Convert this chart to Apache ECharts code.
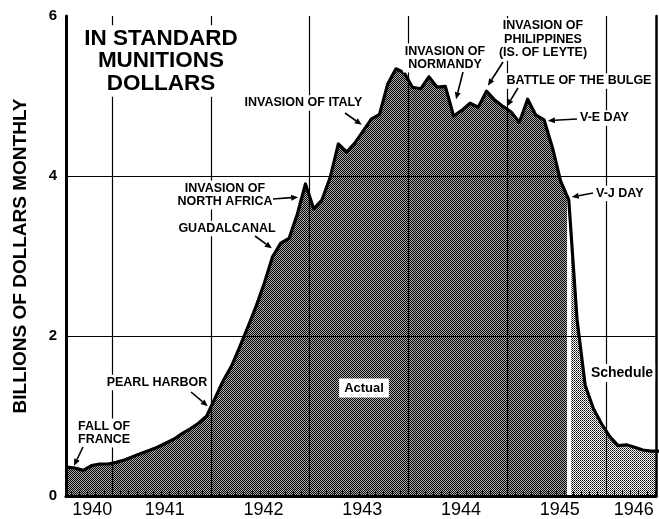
<!DOCTYPE html>
<html><head><meta charset="utf-8">
<script src="https://cdn.jsdelivr.net/npm/echarts@6/dist/echarts.min.js"></script>
<style>html,body{margin:0;padding:0;background:#fff}#c{width:659px;height:519px}</style>
</head><body><div id="c"></div>
<script>
// ---- DATA ----
const actualMonths = [
 '1940-07','1940-08','1940-09','1940-10','1940-11','1940-12',
 '1941-01','1941-02','1941-03','1941-04','1941-05','1941-06','1941-07','1941-08','1941-09','1941-10','1941-11','1941-12',
 '1942-01','1942-02','1942-03','1942-04','1942-05','1942-06','1942-07','1942-08','1942-09','1942-10','1942-11','1942-12',
 '1943-01','1943-02','1943-03','1943-04','1943-05','1943-06','1943-07','1943-08','1943-09','1943-10','1943-11','1943-12',
 '1944-01','1944-02','1944-03','1944-04','1944-05','1944-06','1944-07','1944-08','1944-09','1944-10','1944-11','1944-12',
 '1945-01','1945-02','1945-03','1945-04','1945-05','1945-06','1945-07','1945-08'
];
const actualValues = [
 0.36,0.35,0.32,0.38,0.40,0.40,
 0.42,0.45,0.49,0.53,0.57,0.61,0.66,0.71,0.78,0.84,0.91,1.00,
 1.22,1.44,1.62,1.86,2.11,2.37,2.66,2.99,3.16,3.22,3.52,3.90,
 3.59,3.70,3.98,4.40,4.30,4.41,4.56,4.71,4.77,5.15,5.34,5.29,
 5.11,5.09,5.24,5.11,5.12,4.75,4.82,4.91,4.86,5.06,4.95,4.87,
 4.80,4.67,4.96,4.76,4.70,4.36,3.94,3.70
];
const scheduleMonths = ['1945-09','1945-10','1945-11','1945-12','1946-01','1946-02','1946-03','1946-04','1946-05','1946-06','1946-07'];
const scheduleValues = [2.21,1.38,1.09,0.90,0.74,0.63,0.64,0.61,0.575,0.56,0.56];
const yearLabels = ['1940','1941','1942','1943','1944','1945','1946'];
const yearLabelPos = [9.6,18.4,30.4,42.4,54.4,66.4,75.4];   // months since Jan 1940
const yearBoundaries = [12,24,36,48,60,72];
const yGridValues = [2,4];
const yAxisName = 'BILLIONS OF DOLLARS MONTHLY';

// ---- helpers ----
function mpos(s){const p=s.split('-').map(Number);return (p[0]-1940)*12+(p[1]-1)+0.5;}
const actualData = actualMonths.map((m,i)=>[mpos(m),actualValues[i]]);
const schedData = scheduleMonths.map((m,i)=>[mpos(m),scheduleValues[i]]);
const schedFill = [actualData[actualData.length-1]].concat(schedData);
const allData = actualData.concat(schedData);
const monthTicks=[];for(let i=7;i<=78;i++)monthTicks.push(i);

function pat(cells,w,h){const c=document.createElement('canvas');c.width=w;c.height=h;const g=c.getContext('2d');g.fillStyle='#fff';g.fillRect(0,0,w,h);cells.forEach(q=>{g.fillStyle=q[2];g.fillRect(q[0],q[1],1,1);});return c;}
const darkPat=pat([[0,0,'#000'],[1,1,'#000'],[1,0,'#aaa'],[0,1,'#aaa']],2,2);
const lightPat=pat([[0,0,'#000'],[1,1,'#555']],2,2);

const FONT='"Liberation Sans", Arial, sans-serif';
const gapX = actualData[actualData.length-1][0]-0.05;

const gridMarks=[
 [{coord:[gapX,0],lineStyle:{color:'#fff',width:4}},{coord:[gapX,actualData[actualData.length-1][1]]}]
].concat(yGridValues.map(v=>({yAxis:v}))).concat(yearBoundaries.map(v=>({xAxis:v})));

const chart=echarts.init(document.getElementById('c'),null,{renderer:'canvas'});
const option={
 animation:false,
 backgroundColor:'#fff',
 grid:{left:66,right:3,top:16,bottom:22,containLabel:false},
 xAxis:[
  {type:'value',min:6.4,max:78.1,position:'bottom',z:12,
   axisLine:{show:true,lineStyle:{color:'#000',width:3}},
   axisTick:{show:true,inside:true,length:5,customValues:monthTicks,lineStyle:{color:'#000',width:1}},
   axisLabel:{customValues:yearLabelPos,formatter:v=>yearLabels[yearLabelPos.indexOf(v)],color:'#000',fontSize:18,fontFamily:FONT,margin:5},
   splitLine:{show:false}},
  {type:'value',min:6.4,max:78.1,position:'top',z:12,
   axisLine:{show:true,lineStyle:{color:'#000',width:2.5}},axisTick:{show:false},axisLabel:{show:false},splitLine:{show:false}}
 ],
 yAxis:[
  {type:'value',min:0,max:6,interval:2,z:12,
   axisLine:{show:true,lineStyle:{color:'#000',width:3}},axisTick:{show:false},
   axisLabel:{color:'#000',fontSize:15,fontWeight:'bold',fontFamily:FONT,margin:9},
   splitLine:{show:false},
   name:yAxisName,nameLocation:'middle',nameGap:36,nameTextStyle:{fontSize:19,fontWeight:'bold',color:'#000',fontFamily:FONT}},
  {type:'value',min:0,max:6,position:'right',z:12,
   axisLine:{show:true,lineStyle:{color:'#000',width:2.5}},axisTick:{show:false},axisLabel:{show:false},splitLine:{show:false}}
 ],
 series:[
  {name:'Actual',type:'line',data:actualData,symbol:'none',z:1,silent:true,
   lineStyle:{width:0},areaStyle:{color:{image:darkPat,repeat:'repeat'},opacity:1}},
  {name:'Schedule',type:'line',data:schedFill,symbol:'none',z:1,silent:true,
   lineStyle:{width:0},areaStyle:{color:{image:lightPat,repeat:'repeat'},opacity:1},
   markLine:{silent:true,z:3,symbol:'none',label:{show:false},animation:false,
     lineStyle:{color:'#000',width:1.2,type:'solid'},data:gridMarks}},
  {name:'Outline',type:'line',data:allData,symbol:'none',z:10,silent:true,
   lineStyle:{color:'#000',width:3.2,join:'round'}}
 ]
};
chart.setOption(option);

// ---- annotations ----
function valAt(m){for(let i=0;i<allData.length-1;i++){const a=allData[i],b=allData[i+1];if(m>=a[0]&&m<=b[0]){return a[1]+(b[1]-a[1])*(m-a[0])/(b[0]-a[0]);}}return allData[0][1];}
const anns=[
 {text:'FALL OF\nFRANCE',x:76,y:433,align:'left',tail:[83,447],at:7.25,off:[1,-2]},
 {text:'PEARL HARBOR',x:157,y:382.5,align:'center',tail:[191,392],at:24.0,off:[-3,-1]},
 {text:'GUADALCANAL',x:227,y:228.5,align:'center',tail:[255,236],at:31.9,off:[-4,-3]},
 {text:'INVASION OF\nNORTH AFRICA',x:225,y:195,align:'center',tail:[273,199],at:35.1,off:[-4,1]},
 {text:'INVASION OF ITALY',x:303.5,y:103,align:'center',tail:[345,113],at:42.7,off:[-3,-4]},
 {text:'INVASION OF\nNORMANDY',x:445,y:58,align:'center',tail:[463,72],at:53.8,off:[0,-15]},
 {text:'INVASION OF\nPHILIPPINES\n(IS. OF LEYTE)',x:543,y:39.5,align:'center',tail:[503,62],at:57.55,off:[1,-6]},
 {text:'BATTLE OF THE BULGE',x:579,y:81,align:'center',tail:[518,88],at:60.0,off:[0,-3]},
 {text:'V-E DAY',x:578,y:118,align:'left',tail:[577,119],at:64.6,off:[3,-2]},
 {text:'V-J DAY',x:594,y:193.5,align:'left',tail:[593,193],at:67.5,off:[3,-3]}
];
const g=[];
g.push({type:'text',x:161,y:61,z:100,style:{text:'IN STANDARD\nMUNITIONS\nDOLLARS',font:'bold 22.5px '+FONT,fill:'#000',align:'center',verticalAlign:'middle',lineHeight:22.5,backgroundColor:'#fff',padding:[2,3]}});
g.push({type:'text',x:364,y:388,z:100,style:{text:'Actual',font:'bold 13px '+FONT,fill:'#000',align:'center',verticalAlign:'middle',backgroundColor:'#fff',padding:[3,5]}});
g.push({type:'text',x:622,y:373,z:100,style:{text:'Schedule',font:'bold 14px '+FONT,fill:'#000',align:'center',verticalAlign:'middle',backgroundColor:'#fff',padding:[2,2]}});
anns.forEach(a=>{
  g.push({type:'text',x:a.x,y:a.y,z:100,style:{text:a.text,font:'bold 12.5px '+FONT,fill:'#000',align:a.align,verticalAlign:'middle',lineHeight:13.5,backgroundColor:'#fff',padding:[1,2]}});
  const p=chart.convertToPixel({gridIndex:0},[a.at,valAt(a.at)]);
  const tip=[p[0]+a.off[0],p[1]+a.off[1]];
  const dx=tip[0]-a.tail[0],dy=tip[1]-a.tail[1];const L=Math.sqrt(dx*dx+dy*dy);
  const ux=dx/L,uy=dy/L,hl=7,hw=3;
  const bx=tip[0]-ux*hl,by=tip[1]-uy*hl;
  g.push({type:'line',z:101,shape:{x1:a.tail[0],y1:a.tail[1],x2:bx,y2:by},style:{stroke:'#000',lineWidth:1.6}});
  g.push({type:'polygon',z:101,shape:{points:[[tip[0],tip[1]],[bx-uy*hw,by+ux*hw],[bx+uy*hw,by-ux*hw]]},style:{fill:'#000'}});
});
chart.setOption({graphic:{elements:g}});
</script>
</body></html>
